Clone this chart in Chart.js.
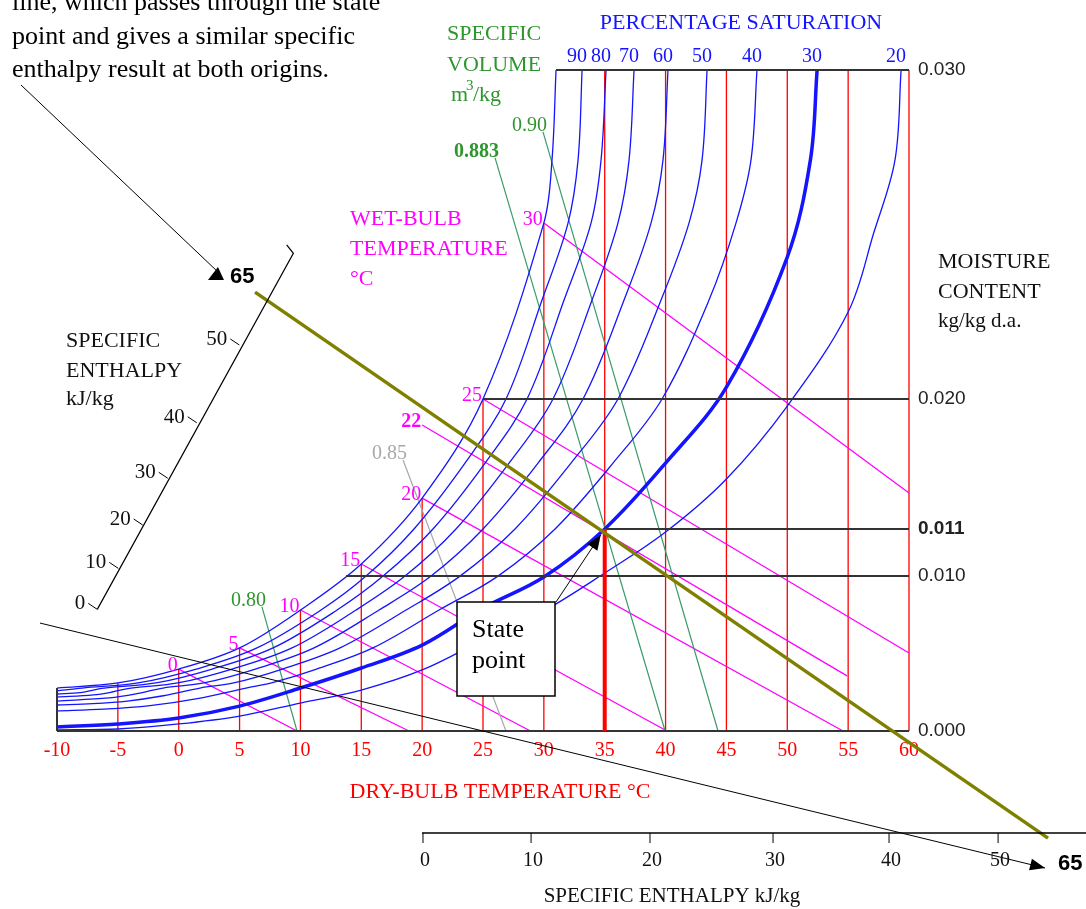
<!DOCTYPE html>
<html>
<head>
<meta charset="utf-8">
<title>Psychrometric chart - specific enthalpy</title>
<script src="https://cdn.jsdelivr.net/npm/chart.js@4.4.1/dist/chart.umd.min.js"></script>
<style>
  html, body { margin: 0; padding: 0; background: #fff; }
</style>
</head>
<body>
<canvas id="psy" width="1086" height="909"></canvas>
<script>
// Dry-bulb temperature axis (deg C)
const dbTicks = [-10, -5, 0, 5, 10, 15, 20, 25, 30, 35, 40, 45, 50, 55, 60];
const dbLines = [-5, 0, 5, 10, 15, 20, 25, 30, 35, 40, 45, 50, 55, 60];

// Moisture content: the chart is not to scale, so each label sits at its drawn height (0..30)
const mcTickPos = [0, 7.03, 9.17, 15.07, 30];
const mcTickLabels = ['0.000', '0.010', '0.011', '0.020', '0.030'];
const mcBoldLabel = '0.011';
// horizontal guide lines and the dry-bulb where each one starts
const mcLinePos = [30, 15.07, 9.17, 7.03, 0];
const mcLineFrom = [31.0, 25, 35, 13.75, -10];

// Percentage saturation curves, [dry-bulb, height]
const sat100 = [[-10, 1.95], [-5, 2.18], [0, 2.81], [5, 3.77], [10, 5.49], [15, 7.58], [20, 10.57], [25, 15.07], [30, 23.06], [30.67, 25.92], [31.0, 30]];
const sat90 = [[-10, 1.82], [-7.95, 1.95], [-3.34, 2.18], [1.44, 2.81], [6.43, 3.77], [11.69, 5.49], [15.39, 7.03], [19.33, 9.17], [23.52, 12.16], [26.89, 15.07], [29.85, 19.56], [31.99, 23.06], [32.81, 25.92], [33.14, 30]];
const sat80 = [[-10, 1.68], [-8.10, 1.74], [-6.14, 1.95], [-1.87, 2.18], [2.75, 2.81], [7.75, 3.77], [13.01, 5.49], [16.79, 7.03], [20.89, 9.17], [25.17, 12.16], [28.62, 15.07], [31.66, 19.56], [33.88, 23.06], [34.70, 25.92], [35.11, 30]];
const sat70 = [[-10, 1.54], [-7.01, 1.64], [-5.47, 1.77], [-3.92, 1.95], [-0.07, 2.18], [4.38, 2.81], [9.31, 3.77], [14.57, 5.49], [18.59, 7.03], [22.78, 9.17], [27.14, 12.16], [30.75, 15.07], [33.96, 19.56], [36.09, 23.06], [37.00, 25.92], [37.41, 30]];
const sat60 = [[-10, 1.36], [-5.71, 1.50], [-3.52, 1.68], [-1.29, 1.95], [2.06, 2.18], [6.30, 2.81], [11.12, 3.77], [16.46, 5.49], [20.73, 7.03], [25.00, 9.17], [29.52, 12.16], [33.22, 15.07], [36.59, 19.56], [38.81, 23.06], [39.79, 25.92], [40.20, 30]];
const sat50 = [[-10, 1.18], [-7.08, 1.24], [-4.22, 1.36], [-1.26, 1.60], [1.75, 1.95], [4.52, 2.18], [8.52, 2.81], [13.25, 3.77], [18.68, 5.49], [23.11, 7.03], [27.63, 9.17], [32.23, 12.16], [36.09, 15.07], [39.63, 19.56], [41.93, 23.06], [43.00, 25.92], [43.41, 30]];
const sat40 = [[-10, 0.91], [-6.14, 0.99], [-2.36, 1.15], [1.53, 1.47], [5.53, 1.95], [7.63, 2.18], [11.33, 2.81], [15.96, 3.77], [21.39, 5.49], [26.23, 7.03], [30.92, 9.17], [35.68, 12.16], [39.71, 15.07], [43.57, 19.56], [45.79, 23.06], [47.02, 25.92], [47.51, 30]];
const sat30 = [[-10, 0.18], [-5, 0.32], [0, 0.59], [5, 1.13], [10, 1.95], [15, 2.86], [20, 3.90], [25, 5.58], [30, 6.99], [35, 9.17], [40, 12.16], [45, 15.61], [50, 21.51], [51.9, 25.92], [52.45, 30]];
const sat20 = [[-10, 0.05], [-5, 0.09], [0, 0.32], [5, 0.68], [10, 1.27], [15, 1.86], [20, 2.77], [25, 4.13], [30, 5.45], [35, 7.17], [40, 9.03], [45, 11.44], [50, 14.75], [55, 19.02], [57.1, 22.60], [58.85, 25.92], [59.35, 30]];
const satLabels = ['90', '80', '70', '60', '50', '40', '30', '20'];

// Wet-bulb temperature lines
const wbLabels = ['0', '5', '10', '15', '20', '22', '25', '30'];
const wbFromT = [0, 5, 10, 15, 20, 20, 25, 30];
const wbFromM = [2.81, 3.77, 5.49, 7.58, 10.57, 13.89, 15.07, 23.06];
const wbToT = [9.72, 18.92, 28.9, 40.12, 54.58, 54.91, 60, 60];
const wbToM = [0, 0, 0, 0, 0, 2.5, 3.54, 10.80];

// Specific volume lines
const svLabels = ['0.80', '0.85', '0.883', '0.90'];
const svFromT = [6.84, 18.43, 25.99, 29.93];
const svFromM = [5.63, 12.30, 26.01, 27.19];
const svToT = [9.72, 26.89, 39.96, 44.31];
const svToM = [0, 0, 0, 0];

// State point and the enthalpy line through it
const statePoint = [35, 9.17];
const enthLine = [[6.27, 19.92], [71.42, -4.86]];

// Enthalpy scales drawn off the chart (kJ/kg)
const enthLabels = ['0', '10', '20', '30', '40', '50'];
const leftEnthAxis = [[8.87, 22.06], [9.42, 21.68], [-6.69, 5.52]];
const leftEnthTicks = [[-6.69, 5.52], [-4.96, 7.38], [-2.96, 9.35], [-0.90, 11.47], [1.48, 13.99], [4.98, 17.52]];
const bottomEnthAxis = [[19.99, -4.63], [74.55, -4.63]];
const bottomEnthTicks = [20.07, 28.95, 38.72, 48.83, 58.36, 67.32];
const enthReading = '65';

// Leader lines from the note to both scales
const leaderUp = [[-12.96, 29.32], [3.06, 20.92]];
const leaderDown = [[-12.96, 29.32], [-11.40, 4.90], [71.18, -6.22]];

const noteLines = ['line, which passes through the state', 'point and gives a similar specific', 'enthalpy result at both origins.'];

const BLUE = '#1414ff';
const RED = '#ff0000';
const MAGENTA = '#ff00ff';
const GREEN_TXT = '#2f962f';
const GREEN_LINE = '#3c9a6a';
const GREY = '#a8a8a8';
const OLIVE = '#808000';
const SERIF = '"Liberation Serif", "Times New Roman", serif';
const SANS = '"Liberation Sans", Arial, sans-serif';

function line(points, color, width, extra) {
    return Object.assign({
        data: points.map(p => ({ x: p[0], y: p[1] })),
        showLine: true,
        borderColor: color,
        borderWidth: width,
        pointRadius: 0,
        pointHoverRadius: 0,
        tension: 0,
        clip: false
    }, extra || {});
}

// smooth saturation curve (parametric spline, so steep tops stay smooth)
function curve(points, color, width) {
    return line(points, color, width, { tension: 0.35 });
}

// first dataset ends up on top
const datasets = [];
datasets.push(line(leaderUp, '#000', 1));
datasets.push(line(leaderDown, '#000', 1));
datasets.push(line(leftEnthAxis, '#000', 1.2));
datasets.push(line(bottomEnthAxis, '#000', 1.5));
datasets.push(line(enthLine, OLIVE, 3.5));
datasets.push(line([[statePoint[0], 0], statePoint], RED, 4));
mcLinePos.forEach((m, i) => {
    datasets.push(line([[mcLineFrom[i], m], [60, m]], '#333', 2));
});
datasets.push(line([[-10, 0], [-10, sat100[0][1]]], '#333', 2));
datasets.push(curve(sat30, BLUE, 3.5));
[sat100, sat90, sat80, sat70, sat60, sat50, sat40, sat20].forEach(c => {
    datasets.push(curve(c, BLUE, 1.3));
});
svLabels.forEach((lab, i) => {
    datasets.push(line([[svFromT[i], svFromM[i]], [svToT[i], svToM[i]]], lab === '0.85' ? GREY : GREEN_LINE, 1.2));
});
wbLabels.forEach((lab, i) => {
    datasets.push(line([[wbFromT[i], wbFromM[i]], [wbToT[i], wbToM[i]]], MAGENTA, 1.3));
});
dbLines.forEach(t => {
    const onSat = sat100.find(p => p[0] === t);
    datasets.push(line([[t, 0], [t, onSat ? onSat[1] : 30]], RED, 1.3));
});

function text(ctx, str, x, y, font, color, align) {
    ctx.font = font;
    ctx.fillStyle = color;
    ctx.textAlign = align || 'left';
    ctx.textBaseline = 'alphabetic';
    ctx.fillText(str, x, y);
}

function arrowHead(ctx, x0, y0, x1, y1, len, half) {
    const a = Math.atan2(y1 - y0, x1 - x0);
    const bx = x1 - len * Math.cos(a);
    const by = y1 - len * Math.sin(a);
    ctx.beginPath();
    ctx.moveTo(x1, y1);
    ctx.lineTo(bx + half * Math.sin(a), by - half * Math.cos(a));
    ctx.lineTo(bx - half * Math.sin(a), by + half * Math.cos(a));
    ctx.closePath();
    ctx.fill();
}

// Texts, scale ticks, arrows and the state point box
const annotations = {
    id: 'annotations',
    afterDatasetsDraw(chart) {
        const ctx = chart.ctx;
        const px = v => chart.scales.x.getPixelForValue(v);
        const py = v => chart.scales.y.getPixelForValue(v);
        ctx.save();

        // note at top left
        noteLines.forEach((s, i) => text(ctx, s, 12, 10 + i * 33.5, '26px ' + SERIF, '#000'));

        // specific volume title
        text(ctx, 'SPECIFIC', 447, 40, '22px ' + SERIF, GREEN_TXT);
        text(ctx, 'VOLUME', 447, 71, '22px ' + SERIF, GREEN_TXT);
        text(ctx, 'm', 451, 101, '22px ' + SERIF, GREEN_TXT);
        text(ctx, '3', 466, 90, '15px ' + SERIF, GREEN_TXT);
        text(ctx, '/kg', 473, 101, '22px ' + SERIF, GREEN_TXT);

        // percentage saturation title and curve labels
        text(ctx, 'PERCENTAGE SATURATION', 741, 29, '22px ' + SERIF, BLUE, 'center');
        [sat90, sat80, sat70, sat60, sat50, sat40, sat30, sat20].forEach((c, i) => {
            const top = c[c.length - 1];
            text(ctx, satLabels[i], px(top[0]) - 5, 62, '20px ' + SERIF, BLUE, 'center');
        });

        // wet-bulb title and labels
        text(ctx, 'WET-BULB', 350, 225, '22px ' + SERIF, MAGENTA);
        text(ctx, 'TEMPERATURE', 350, 255, '22px ' + SERIF, MAGENTA);
        text(ctx, '\u00B0C', 350, 285, '22px ' + SERIF, MAGENTA);
        wbLabels.forEach((lab, i) => {
            const f = (lab === '22' ? 'bold ' : '') + '20px ' + SERIF;
            text(ctx, lab, px(wbFromT[i]) - 1, py(wbFromM[i]) + 2, f, MAGENTA, 'right');
        });

        // specific volume labels
        svLabels.forEach((lab, i) => {
            const f = (lab === '0.883' ? 'bold ' : '') + '20px ' + SERIF;
            const c = lab === '0.85' ? GREY : GREEN_TXT;
            text(ctx, lab, px(svFromT[i]) + 4, py(svFromM[i]) - 1, f, c, 'right');
        });

        // moisture content title
        text(ctx, 'MOISTURE', 938, 268, '22px ' + SERIF, '#111');
        text(ctx, 'CONTENT', 938, 298, '22px ' + SERIF, '#111');
        text(ctx, 'kg/kg d.a.', 938, 327, '21px ' + SERIF, '#111');

        // dry-bulb title
        text(ctx, 'DRY-BULB TEMPERATURE \u00B0C', 500, 798, '22px ' + SERIF, RED, 'center');

        // left enthalpy scale
        text(ctx, 'SPECIFIC', 66, 347, '22px ' + SERIF, '#111');
        text(ctx, 'ENTHALPY', 66, 377, '22px ' + SERIF, '#111');
        text(ctx, 'kJ/kg', 66, 405, '22px ' + SERIF, '#111');
        ctx.strokeStyle = '#000';
        ctx.lineWidth = 1;
        leftEnthTicks.forEach((p, i) => {
            const x = px(p[0]), y = py(p[1]);
            ctx.beginPath();
            ctx.moveTo(x, y);
            ctx.lineTo(x - 9, y - 6);
            ctx.stroke();
            text(ctx, enthLabels[i], x - 12, y, '21px ' + SERIF, '#111', 'right');
        });

        // bottom enthalpy scale
        const yb = py(bottomEnthAxis[0][1]);
        bottomEnthTicks.forEach((t, i) => {
            const x = px(t);
            ctx.beginPath();
            ctx.moveTo(x, yb);
            ctx.lineTo(x, yb + 10);
            ctx.stroke();
            text(ctx, enthLabels[i], x + 2, yb + 33, '20px ' + SERIF, '#111', 'center');
        });
        text(ctx, 'SPECIFIC ENTHALPY kJ/kg', 672, 902, '21px ' + SERIF, '#111', 'center');

        // arrow heads and the 65 readings
        ctx.fillStyle = '#000';
        const tipUp = leaderUp[1];
        const ux = px(tipUp[0]), uy = py(tipUp[1]);
        ctx.beginPath();
        ctx.moveTo(ux - 8, uy + 10);
        ctx.lineTo(ux + 8, uy + 10);
        ctx.lineTo(ux + 2, uy - 3);
        ctx.closePath();
        ctx.fill();
        text(ctx, enthReading, ux + 14, uy + 13, 'bold 22px ' + SANS, '#000');
        const a = leaderDown[1], b = leaderDown[2];
        ctx.fillStyle = '#000';
        arrowHead(ctx, px(a[0]), py(a[1]), px(b[0]), py(b[1]), 15, 6);
        text(ctx, enthReading, px(b[0]) + 13, py(b[1]) + 2, 'bold 22px ' + SANS, '#000');

        // state point box and arrow
        const sx = px(statePoint[0]), sy = py(statePoint[1]);
        ctx.fillStyle = '#fff';
        ctx.fillRect(457, 602, 98, 94);
        ctx.strokeStyle = '#000';
        ctx.lineWidth = 1.5;
        ctx.strokeRect(457, 602, 98, 94);
        text(ctx, 'State', 472, 637, '26px ' + SERIF, '#000');
        text(ctx, 'point', 472, 668, '26px ' + SERIF, '#000');
        ctx.lineWidth = 1;
        ctx.beginPath();
        ctx.moveTo(556, 602);
        ctx.lineTo(sx - 4, sy + 6);
        ctx.stroke();
        ctx.fillStyle = '#000';
        arrowHead(ctx, 556, 602, sx - 4, sy + 6, 15, 6);

        ctx.restore();
    }
};

new Chart(document.getElementById('psy'), {
    type: 'scatter',
    data: { datasets: datasets },
    options: {
        responsive: false,
        animation: false,
        events: [],
        layout: { padding: { left: 57, top: 70, right: 1086 - 909 - 80, bottom: 909 - 731 - 36 } },
        plugins: { legend: { display: false }, tooltip: { enabled: false } },
        scales: {
            x: {
                type: 'linear',
                min: -10,
                max: 60,
                afterFit: s => { s.height = 36; },
                afterBuildTicks: ax => { ax.ticks = dbTicks.map(v => ({ value: v })); },
                grid: { display: false, drawTicks: false },
                border: { display: false },
                ticks: {
                    color: RED,
                    font: { family: SERIF, size: 20 },
                    padding: 8,
                    autoSkip: false,
                    maxRotation: 0,
                    callback: v => String(v)
                }
            },
            y: {
                type: 'linear',
                position: 'right',
                min: 0,
                max: 30,
                afterFit: s => { s.width = 80; },
                afterBuildTicks: ax => { ax.ticks = mcTickPos.map(v => ({ value: v })); },
                grid: { display: false, drawTicks: false },
                border: { display: false },
                ticks: {
                    color: '#222',
                    padding: 9,
                    autoSkip: false,
                    font: c => ({ family: SANS, size: 19, weight: mcTickLabels[c.index] === mcBoldLabel ? 'bold' : 'normal' }),
                    callback: (v, i) => mcTickLabels[i]
                }
            }
        }
    },
    plugins: [annotations]
});
</script>
</body>
</html>
